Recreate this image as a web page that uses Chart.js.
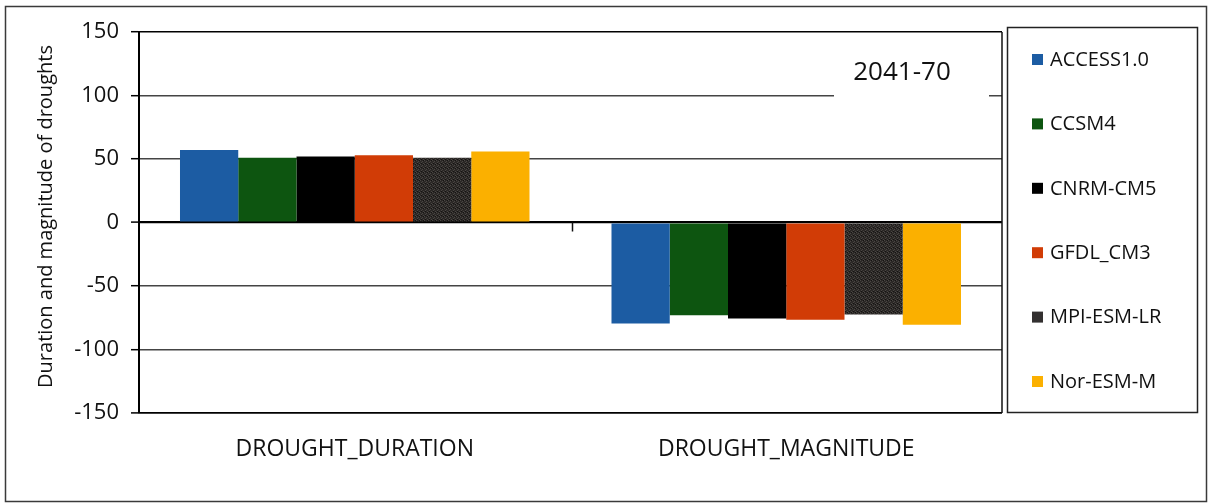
<!DOCTYPE html>
<html>
<head>
<meta charset="utf-8">
<script src="https://cdn.jsdelivr.net/npm/chart.js@4.4.1/dist/chart.umd.min.js"></script>
<style>
  html, body { margin: 0; padding: 0; background: #fff; }
  #wrap { width: 1216px; height: 504px; }
</style>
</head>
<body>
<div id="wrap"><canvas id="c" width="1216" height="504"></canvas></div>
<script>
// Drought indicators per climate model, period 2041-70
const categories = ['DROUGHT_DURATION', 'DROUGHT_MAGNITUDE'];
const models = ['ACCESS1.0', 'CCSM4', 'CNRM-CM5', 'GFDL_CM3', 'MPI-ESM-LR', 'Nor-ESM-M'];
const accessValues = [57, -79.5];
const ccsmValues = [51, -73];
const cnrmValues = [52, -75.5];
const gfdlValues = [53, -76.5];
const mpiValues = [51, -72.5];
const norValues = [56, -80.5];
const yTicks = [-150, -100, -50, 0, 50, 100, 150];
const periodLabel = '2041-70';
const axisTitle = 'Duration and magnitude of droughts';

const FONT = '"Open Sans", Lato, sans-serif';

// speckled dark fill for the MPI series
function speckle() {
  const p = document.createElement('canvas');
  p.width = 4; p.height = 4;
  const g = p.getContext('2d');
  g.fillStyle = '#2b2826'; g.fillRect(0, 0, 4, 4);
  g.fillStyle = '#4a4643';
  g.fillRect(0, 0, 1, 1); g.fillRect(2, 1, 1, 1); g.fillRect(1, 2, 1, 1); g.fillRect(3, 3, 1, 1);
  g.fillStyle = '#151312';
  g.fillRect(3, 0, 1, 1); g.fillRect(1, 3, 1, 1);
  return g.createPattern(p, 'repeat');
}

const seriesValues = [accessValues, ccsmValues, cnrmValues, gfdlValues, mpiValues, norValues];
const seriesColors = ['#1c5ca3', '#0d5510', '#000000', '#d13c06', speckle(), '#fbb000'];
const legendSwatch = ['#1c5ca3', '#0d5510', '#000000', '#d13c06', '#333030', '#fbb000'];

const decor = {
  id: 'decor',
  beforeDraw(chart) {
    const ctx = chart.ctx;
    ctx.save();
    ctx.fillStyle = '#fff';
    ctx.fillRect(0, 0, chart.width, chart.height);
    ctx.restore();
  },
  afterDraw(chart) {
    const ctx = chart.ctx;
    const a = chart.chartArea;
    const xs = chart.scales.x, ys = chart.scales.y;
    ctx.save();
    // outer frame
    ctx.strokeStyle = '#3a3a3a';
    ctx.lineWidth = 1.5;
    ctx.strokeRect(5.5, 6.5, 1201, 495);
    // right edge of plot area
    ctx.strokeStyle = '#111';
    ctx.lineWidth = 1.5;
    ctx.beginPath();
    ctx.moveTo(a.right, a.top);
    ctx.lineTo(a.right, a.bottom);
    ctx.stroke();
    // category separator tick on the zero line
    const zy = ys.getPixelForValue(0);
    const mid = (xs.getPixelForValue(0) + xs.getPixelForValue(1)) / 2;
    ctx.lineWidth = 1.5;
    ctx.beginPath();
    ctx.moveTo(mid + 2, zy);
    ctx.lineTo(mid + 2, zy + 9);
    ctx.stroke();
    // period label on a white box
    ctx.fillStyle = '#fff';
    ctx.fillRect(834, 50, 155, 50);
    ctx.fillStyle = '#111';
    ctx.font = '26px ' + FONT;
    ctx.textAlign = 'center';
    ctx.textBaseline = 'middle';
    ctx.fillText(periodLabel, 902, 73);
    // y axis title
    ctx.save();
    ctx.translate(46, (a.top + a.bottom) / 2 - 6);
    ctx.rotate(-Math.PI / 2);
    ctx.font = '20px ' + FONT;
    ctx.fillText(axisTitle, 0, 0);
    ctx.restore();
    // legend box
    const lx = 1007, ly = 27, lw = 190, lh = a.bottom - 1 - ly;
    ctx.fillStyle = '#fff';
    ctx.fillRect(lx, ly, lw, lh);
    ctx.strokeStyle = '#222';
    ctx.lineWidth = 1.5;
    ctx.strokeRect(lx + 0.5, ly + 0.5, lw, lh);
    ctx.font = '20px ' + FONT;
    ctx.textAlign = 'left';
    ctx.textBaseline = 'middle';
    const step = 64.4;
    models.forEach((m, i) => {
      const cy = 59 + i * step;
      ctx.fillStyle = legendSwatch[i];
      ctx.fillRect(1032, cy - 5, 11, 11);
      ctx.fillStyle = '#111';
      ctx.fillText(m, 1050, cy + 1);
    });
    ctx.restore();
  }
};

new Chart(document.getElementById('c'), {
  type: 'bar',
  data: {
    labels: categories,
    datasets: models.map((m, i) => ({
      label: m,
      data: seriesValues[i],
      backgroundColor: seriesColors[i],
      borderWidth: 0,
      categoryPercentage: 0.81,
      barPercentage: 1.0
    }))
  },
  options: {
    responsive: false,
    animation: false,
    devicePixelRatio: 1,
    layout: { padding: { left: 5, right: 214, top: 32, bottom: 0 } },
    plugins: { legend: { display: false }, tooltip: { enabled: false } },
    scales: {
      x: {
        grid: { display: false, drawTicks: false },
        border: { display: false },
        ticks: { color: '#111', font: { family: FONT, size: 23 }, padding: 23, maxRotation: 0 },
        afterFit(s) { s.height = 91; }
      },
      y: {
        min: -150,
        max: 150,
        afterBuildTicks(s) { s.ticks = yTicks.map(v => ({ value: v })); },
        afterFit(s) { s.width = 134; },
        border: { display: true, color: '#000', width: 2 },
        grid: {
          color: ctx => {
            const v = ctx.tick && ctx.tick.value;
            return (v === 0 || v === -150 || v === 150) ? '#000' : '#444';
          },
          lineWidth: ctx => {
            const v = ctx.tick && ctx.tick.value;
            return v === 0 ? 2.2 : (v === -150 ? 1.8 : 1.4);
          },
          tickColor: '#000',
          tickLength: 8,
          tickWidth: 1.5
        },
        ticks: { color: '#111', font: { family: FONT, size: 22 }, padding: 12 }
      }
    }
  },
  plugins: [decor]
});
</script>
</body>
</html>
